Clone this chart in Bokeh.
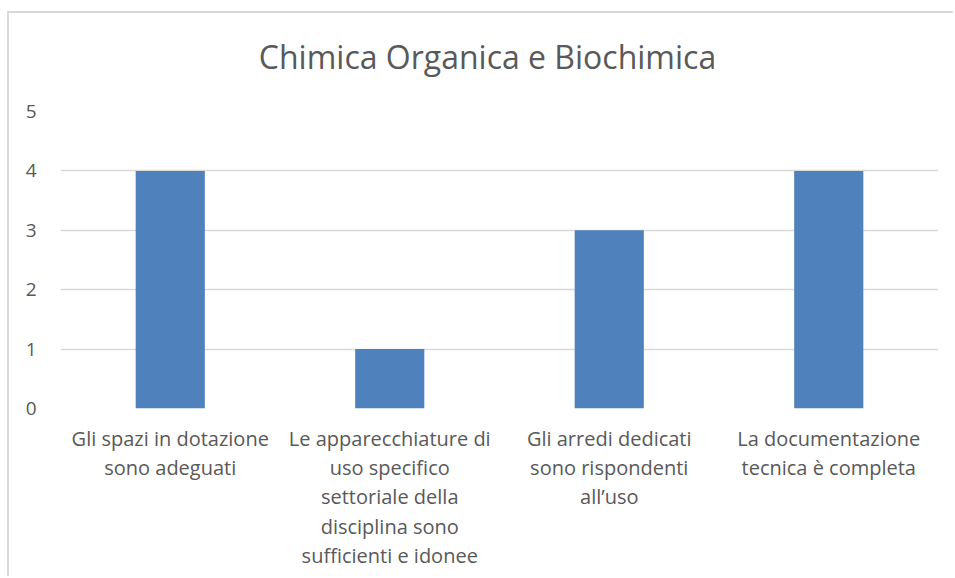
from bokeh.plotting import figure
from bokeh.models import FactorRange, Range1d, Label
from bokeh.layouts import column
from bokeh.embed import file_html
from bokeh.resources import INLINE

categories = [
    "Gli spazi in dotazione\nsono adeguati",
    "Le apparecchiature di\nuso specifico\nsettoriale della\ndisciplina sono\nsufficienti e idonee",
    "Gli arredi dedicati\nsono rispondenti\nall\u2019uso",
    "La documentazione\ntecnica \u00e8 completa",
]
values = [4, 1, 3, 4]
y_ticks = [0, 1, 2, 3, 4, 5]
title_text = "Chimica Organica e Biochimica"

FONT = "Open Sans"
GREY = "#595959"
BORDER = "2px solid #d9d9d9"

# title strip
tf = figure(width=946, height=78, output_backend="svg", toolbar_location=None,
            x_axis_type=None, y_axis_type=None, min_border=0,
            styles={"border-left": BORDER, "border-top": BORDER})
tf.title = None
tf.outline_line_color = None
tf.xgrid.grid_line_color = None
tf.ygrid.grid_line_color = None
tf.add_layout(Label(x=427, y=35, x_units="screen", y_units="screen", text=title_text,
                    text_align="center", text_baseline="alphabetic",
                    text_font=FONT, text_font_size="32px", text_color=GREY))

p = figure(
    x_range=FactorRange(factors=categories, range_padding=0),
    y_range=Range1d(0, 5),
    width=946, height=487,
    output_backend="svg", toolbar_location=None,
    min_border_left=51, min_border_right=17,
    min_border_top=22, min_border_bottom=168,
    styles={"border-left": BORDER},
)
p.title = None
p.vbar(x=categories, top=values, width=0.315, color="#4f81bd", line_color=None)

p.outline_line_color = None
p.xgrid.grid_line_color = None
p.ygrid.grid_line_color = "#d9d9d9"
p.ygrid.grid_line_width = 1.5
p.yaxis.ticker = y_ticks
p.yaxis.axis_line_color = None
p.yaxis.major_tick_line_color = None
p.yaxis.minor_tick_line_color = None
p.yaxis.major_label_standoff = 18
p.yaxis.major_label_text_font = FONT
p.yaxis.major_label_text_font_size = "19px"
p.yaxis.major_label_text_color = GREY

p.xaxis.axis_line_color = None
p.xaxis.major_tick_line_color = None
p.xaxis.major_label_standoff = 10
p.xaxis.major_label_text_font = FONT
p.xaxis.major_label_text_font_size = "20px"
p.xaxis.major_label_text_color = GREY
p.xaxis.major_label_text_line_height = 1.09
p.xaxis.major_label_orientation = "horizontal"

layout = column(tf, p, spacing=0, styles={"margin-top": "11px", "margin-left": "7px"})

open("out.html", "w").write(file_html(layout, INLINE))
